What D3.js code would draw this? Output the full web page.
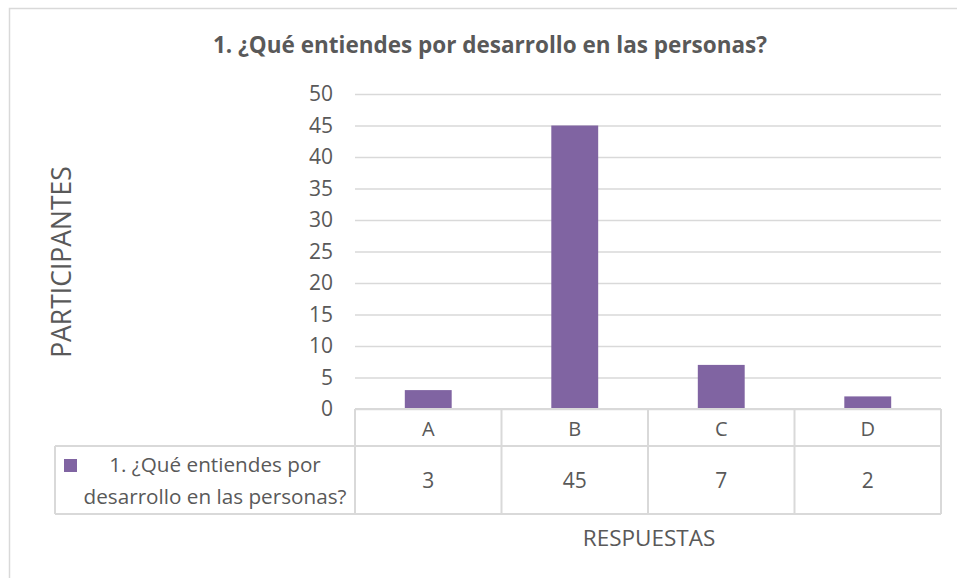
<!DOCTYPE html>
<html>
<head>
<meta charset="utf-8">
<script src="https://cdn.jsdelivr.net/npm/d3@7"></script>
<style>
  html, body { margin: 0; padding: 0; background: #fff; }
  svg { display: block; }
  text { font-family: "Open Sans", "Noto Sans", sans-serif; fill: #595959; }
</style>
</head>
<body>
<svg id="chart" width="957" height="578"></svg>
<script>
const categories = ["A", "B", "C", "D"];
const values = [3, 45, 7, 2];
const yTicks = [0, 5, 10, 15, 20, 25, 30, 35, 40, 45, 50];
const seriesName = ["1. ¿Qué entiendes por", "desarrollo en las personas?"];
const titleText = "1. ¿Qué entiendes por desarrollo en las personas?";
const yTitle = "PARTICIPANTES";
const xTitle = "RESPUESTAS";

(function () {
const svg = d3.select("#chart");
const gridColor = "#d9d9d9";
const barColor = "#8064a2";

// outer chart border (extends past the picture on right/bottom)
svg.append("rect")
  .attr("x", 9.5).attr("y", 8.5)
  .attr("width", 1000).attr("height", 600)
  .attr("fill", "none").attr("stroke", gridColor).attr("stroke-width", 1.5);

const plotL = 355, plotR = 941, plotT = 94, plotB = 409;
const headerBottom = 446, tableBottom = 514, legendLeft = 55;

const x = d3.scaleBand().domain(categories).range([plotL, plotR]).padding(0);
const y = d3.scaleLinear().domain([0, 50]).range([plotB, plotT]);

// gridlines
svg.append("g").selectAll("line").data(yTicks).join("line")
  .attr("x1", plotL).attr("x2", plotR)
  .attr("y1", d => y(d) + 0.5).attr("y2", d => y(d) + 0.5)
  .attr("stroke", gridColor).attr("stroke-width", 1.5);

// y axis labels
const yAxis = d3.axisLeft(y).tickValues(yTicks).tickSize(0).tickPadding(0);
const yg = svg.append("g").attr("transform", `translate(${plotL - 22},0)`).call(yAxis);
yg.select(".domain").remove();
yg.selectAll("text").attr("font-size", 21).attr("fill", "#595959")
  .style("font-family", '"Open Sans", sans-serif');

// bars
const barW = x.bandwidth() * 0.32;
svg.append("g").selectAll("rect").data(values).join("rect")
  .attr("x", (d, i) => x(categories[i]) + (x.bandwidth() - barW) / 2)
  .attr("width", barW)
  .attr("y", d => y(d))
  .attr("height", d => plotB - y(d))
  .attr("fill", barColor);

// data table
const tbl = svg.append("g").attr("stroke", gridColor).attr("stroke-width", 2).attr("fill", "none");
tbl.append("line").attr("x1", plotL).attr("x2", plotR).attr("y1", plotB).attr("y2", plotB);
tbl.append("line").attr("x1", legendLeft).attr("x2", plotR).attr("y1", headerBottom).attr("y2", headerBottom);
tbl.append("line").attr("x1", legendLeft).attr("x2", plotR).attr("y1", tableBottom).attr("y2", tableBottom);
const colEdges = categories.map(c => x(c)).concat([plotR]);
tbl.selectAll(".v").data(colEdges).join("line")
  .attr("x1", d => d).attr("x2", d => d)
  .attr("y1", plotB).attr("y2", tableBottom);
tbl.append("line").attr("x1", legendLeft).attr("x2", legendLeft).attr("y1", headerBottom).attr("y2", tableBottom);

// category labels
svg.append("g").selectAll("text").data(categories).join("text")
  .attr("x", d => x(d) + x.bandwidth() / 2)
  .attr("y", (plotB + headerBottom) / 2 + 1)
  .attr("dy", "0.35em")
  .attr("text-anchor", "middle")
  .attr("font-size", 20)
  .text(d => d);

// values row
svg.append("g").selectAll("text").data(values).join("text")
  .attr("x", (d, i) => x(categories[i]) + x.bandwidth() / 2)
  .attr("y", (headerBottom + tableBottom) / 2 + 1)
  .attr("dy", "0.35em")
  .attr("text-anchor", "middle")
  .attr("font-size", 21)
  .text(d => d);

// legend key + text
svg.append("rect").attr("x", 64).attr("y", 459).attr("width", 13).attr("height", 13).attr("fill", barColor);
svg.append("g").selectAll("text").data(seriesName).join("text")
  .attr("x", 215)
  .attr("y", (d, i) => 465 + i * 32)
  .attr("dy", "0.35em")
  .attr("text-anchor", "middle")
  .attr("font-size", 20.7)
  .text(d => d);

// title
svg.append("text")
  .attr("x", 490).attr("y", 45).attr("dy", "0.35em")
  .attr("text-anchor", "middle")
  .attr("font-size", 22.5).attr("font-weight", "bold")
  .text(titleText);

// axis titles
svg.append("text")
  .attr("transform", "translate(62,262) rotate(-90)")
  .attr("dy", "0.35em")
  .attr("text-anchor", "middle")
  .attr("font-size", 26.5)
  .text(yTitle);

svg.append("text")
  .attr("x", 649).attr("y", 538).attr("dy", "0.35em")
  .attr("text-anchor", "middle")
  .attr("font-size", 22.5)
  .text(xTitle);
})();
</script>
</body>
</html>
